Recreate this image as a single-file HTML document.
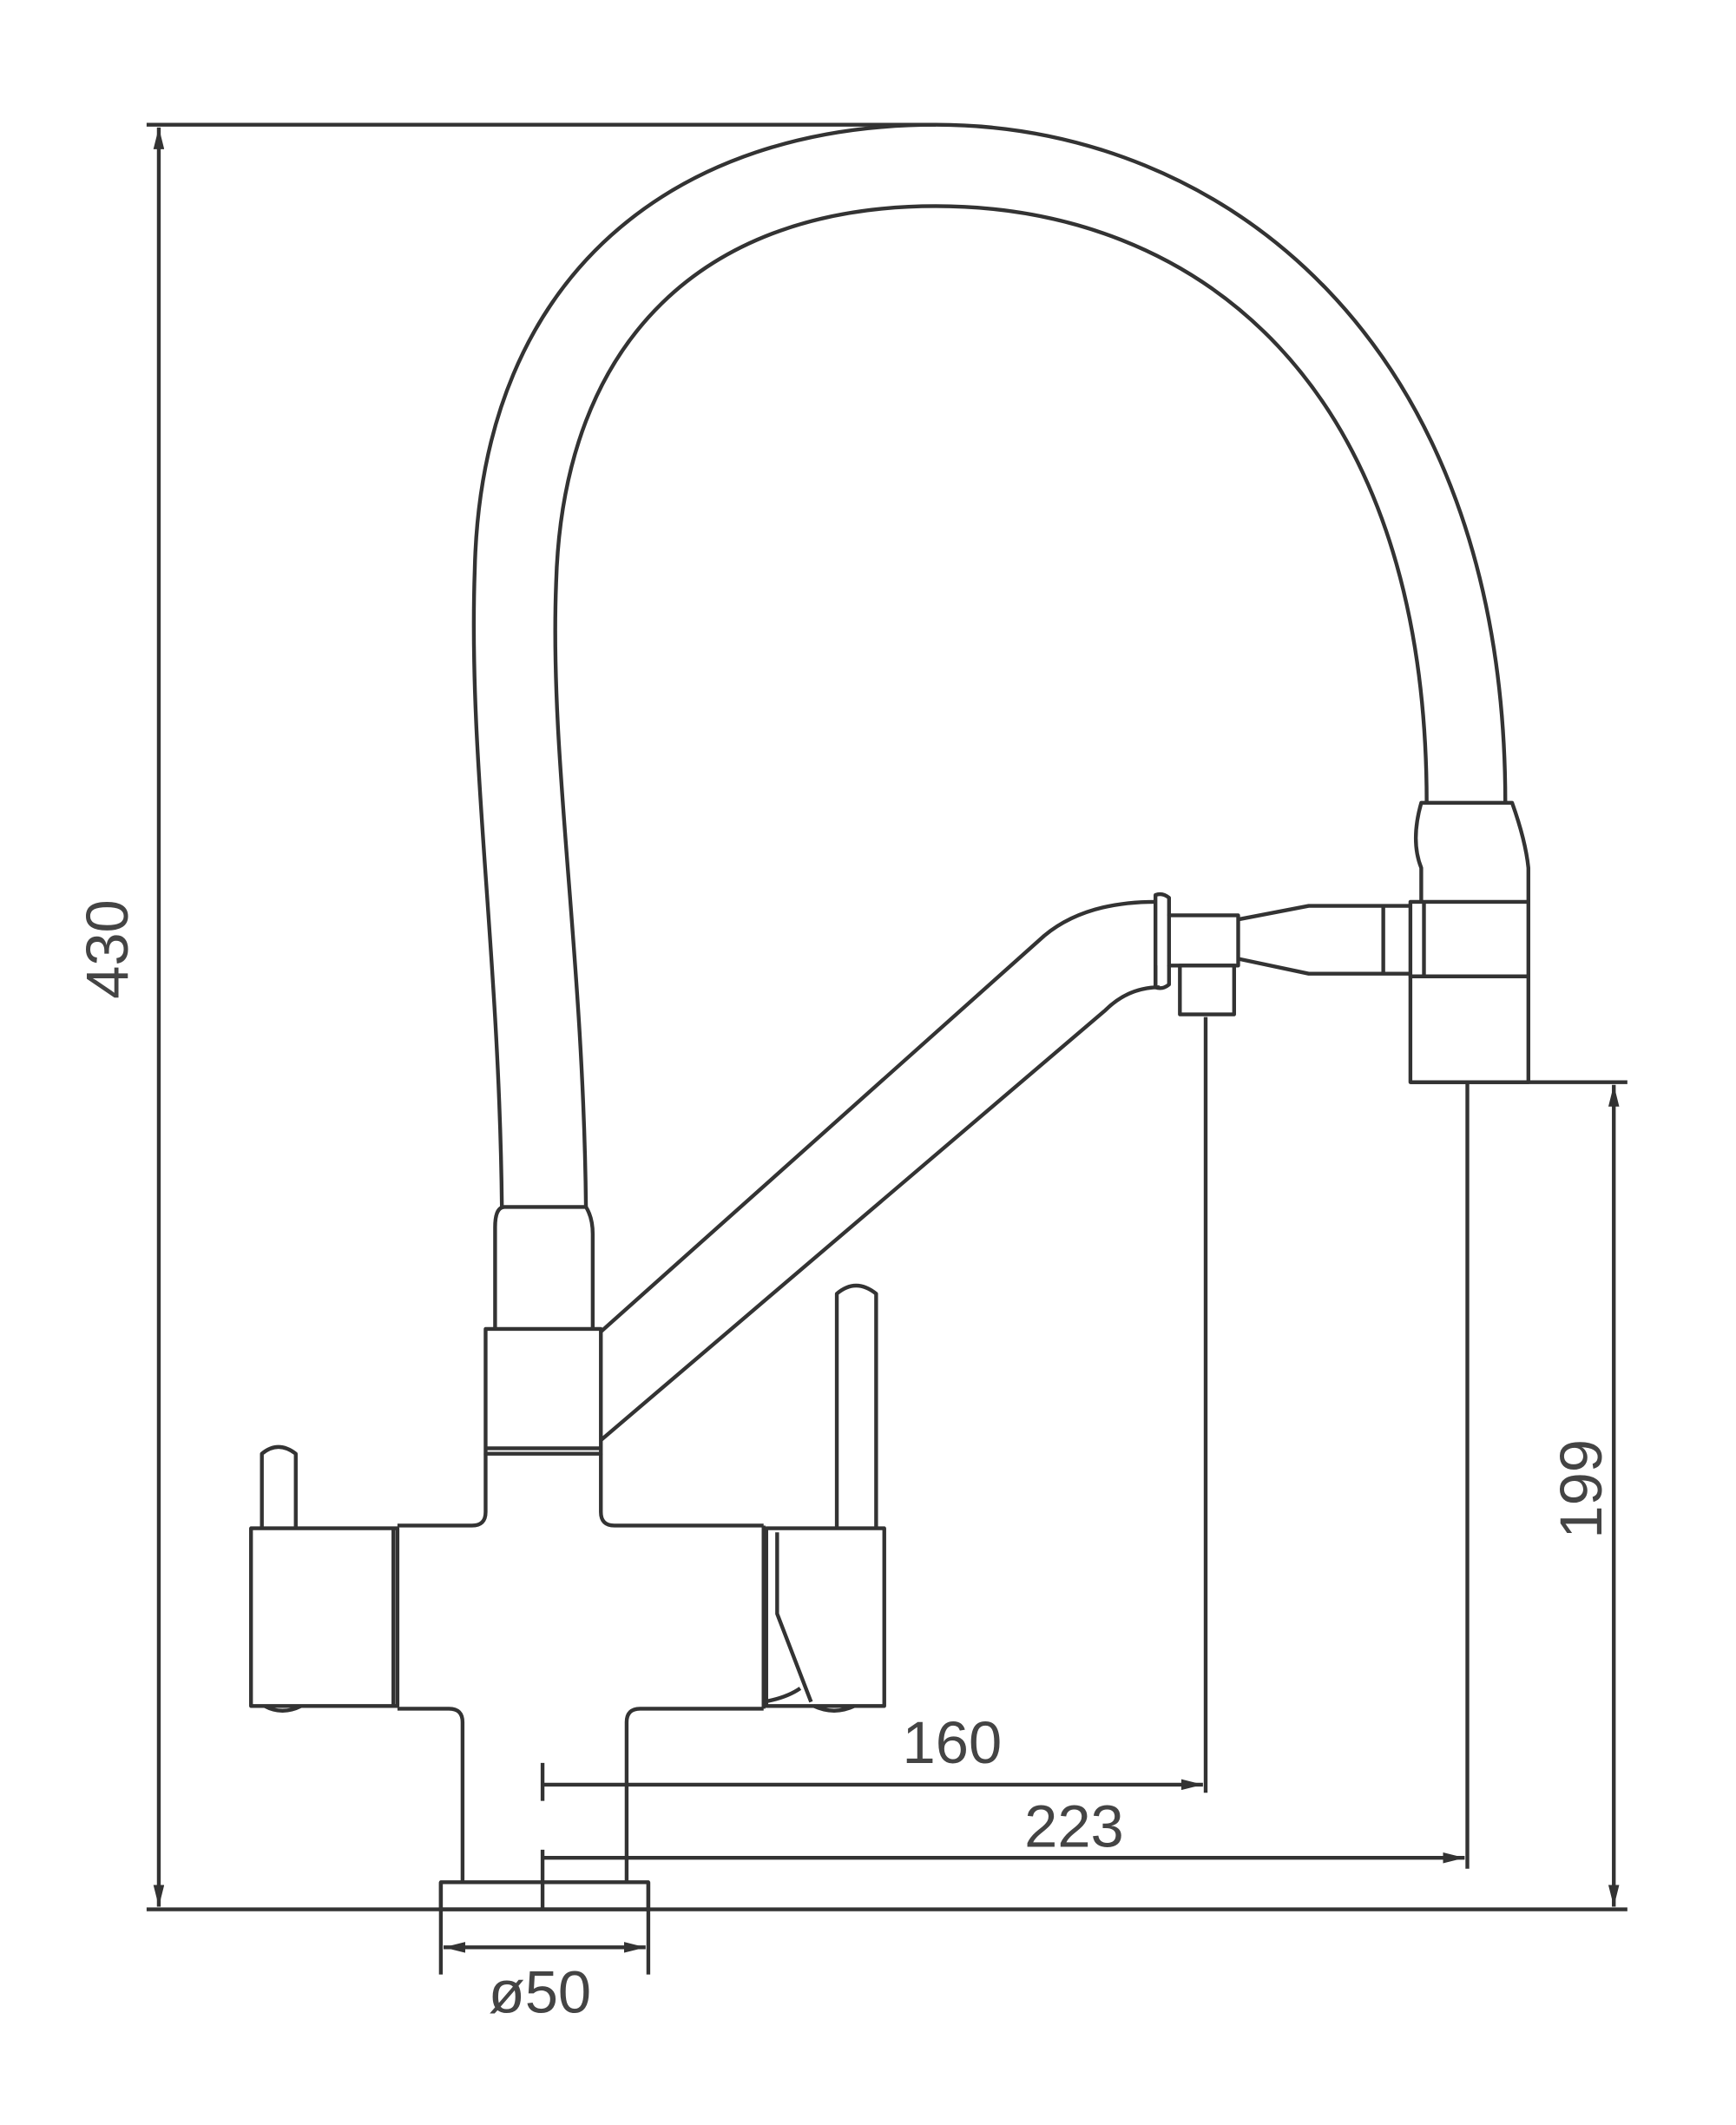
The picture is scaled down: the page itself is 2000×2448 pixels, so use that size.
<!DOCTYPE html>
<html><head><meta charset="utf-8"><style>html,body{margin:0;padding:0;background:#fff}svg{display:block}</style></head>
<body>
<svg width="2000" height="2448" viewBox="0 0 1280 1567" xmlns="http://www.w3.org/2000/svg">
<defs>
<marker id="a" viewBox="0 0 16 8" refX="16" refY="4" markerWidth="16" markerHeight="8" markerUnits="userSpaceOnUse" orient="auto-start-reverse"><path d="M0,0 L16,4 L0,8 z" fill="#333"/></marker>
</defs>
<g fill="none" stroke="#333" stroke-width="2.8" stroke-linejoin="round">
<line x1="108" y1="92" x2="690" y2="92"/>
<line x1="108" y1="1408" x2="1200" y2="1408"/>
<line x1="117" y1="94" x2="117" y2="1406" marker-start="url(#a)" marker-end="url(#a)"/>
<line x1="1040" y1="798" x2="1200" y2="798"/>
<line x1="1190" y1="800" x2="1190" y2="1406" marker-start="url(#a)" marker-end="url(#a)"/>
<line x1="1082" y1="798" x2="1082" y2="1378"/>
<line x1="889" y1="750" x2="889" y2="1322"/>
<line x1="400" y1="1300" x2="400" y2="1328"/>
<line x1="400" y1="1316" x2="887" y2="1316" marker-end="url(#a)"/>
<line x1="400" y1="1364" x2="400" y2="1408"/>
<line x1="400" y1="1370" x2="1080" y2="1370" marker-end="url(#a)"/>
<line x1="325" y1="1388" x2="325" y2="1456"/>
<line x1="478" y1="1388" x2="478" y2="1456"/>
<line x1="327" y1="1436" x2="476" y2="1436" marker-start="url(#a)" marker-end="url(#a)"/>
<rect x="325" y="1388" width="153" height="20"/>
<path d="M341,1388 V1270 Q341,1260 331,1260 H293"/>
<path d="M462,1388 V1270 Q462,1260 472,1260 H563"/>
<path d="M293,1125 H348 Q358,1125 358,1115 V1072"/>
<path d="M443,1072 V1115 Q443,1125 453,1125 H563"/>
<line x1="563" y1="1125" x2="563" y2="1260"/>
<rect x="185" y="1127" width="108" height="131"/>
<line x1="290" y1="1127" x2="290" y2="1258"/>
<path d="M193,1127 V1072 Q205,1062 218,1072 V1127"/>
<path d="M195,1258 Q208,1265 222,1258"/>
<rect x="565" y="1127" width="87" height="131"/>
<path d="M573,1130 V1190 L598,1255"/>
<path d="M563,1255 Q580,1252 590,1245"/>
<path d="M617,1127 V954 Q631,942 646,954 V1127"/>
<path d="M600,1258 Q615,1265 630,1258"/>
<rect x="358" y="980" width="85" height="92"/>
<line x1="358" y1="1068" x2="443" y2="1068"/>
<path d="M365,980 V905 Q365,890 372,890 H432 Q437,898 437,910 V980"/>
<path d="M443,982 L770,690 Q800,665 852,665"/>
<path d="M443,1062 L815,745 Q832,728 855,728"/>
<path d="M852,728 V660 Q857,658 862,662 V675"/>
<rect x="862" y="675" width="51" height="37"/>
<path d="M852,712 V728 Q857,730 862,726 V712"/>
<rect x="870" y="712" width="40" height="36"/>
<path d="M913,678 L965,668 H1040"/>
<path d="M913,707 L965,718 H1040"/>
<line x1="1020" y1="668" x2="1020" y2="718"/>
<path d="M1048,665 V640 Q1040,620 1048,592 H1115 Q1125,620 1127,640 V665"/>
<rect x="1040" y="665" width="87" height="55"/>
<line x1="1050" y1="665" x2="1050" y2="720"/>
<rect x="1040" y="720" width="87" height="78"/>
<path d="M370,890 C368,700 345,560 350,420 C355,200 500,92 690,92 C900,92 1110,250 1110,592"/>
<path d="M432,890 C430,700 405,560 410,430 C415,250 520,152 690,152 C880,152 1052,280 1052,592"/>
</g>
<g font-family="Liberation Sans, sans-serif" font-size="44" fill="#444">
<text x="702" y="1300" text-anchor="middle">160</text>
<text x="792" y="1362" text-anchor="middle">223</text>
<text x="398" y="1484" text-anchor="middle">ø50</text>
<text transform="translate(94,700) rotate(-90)" text-anchor="middle">430</text>
<text transform="translate(1181,1098) rotate(-90)" text-anchor="middle">199</text>
</g>
</svg>
</body></html>
